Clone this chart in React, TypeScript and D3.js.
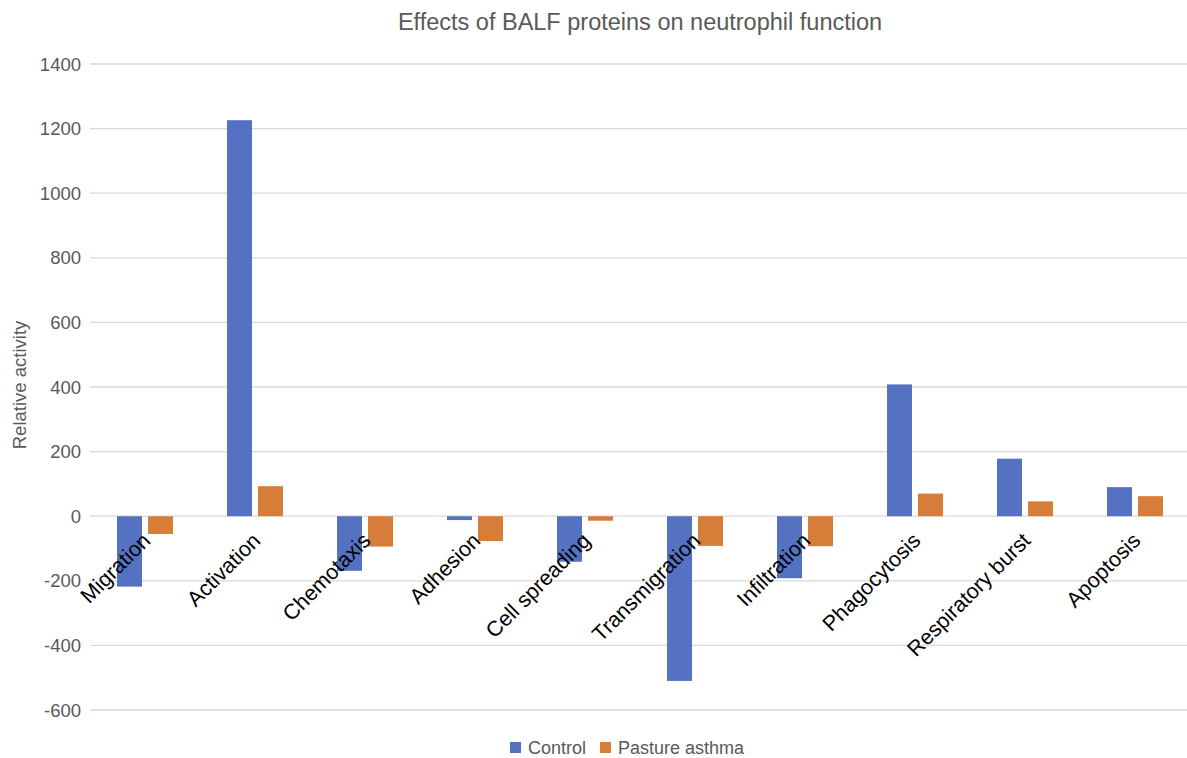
import React from 'react';
import * as d3 from 'd3';

const categories = [
  'Migration', 'Activation', 'Chemotaxis', 'Adhesion', 'Cell spreading',
  'Transmigration', 'Infiltration', 'Phagocytosis', 'Respiratory burst', 'Apoptosis',
];
const controlValues = [-218, 1226, -169, -12, -141, -510, -192, 408, 178, 90];
const pastureValues = [-55, 93, -94, -77, -14, -92, -93, 70, 46, 62];
const yTicks = [-600, -400, -200, 0, 200, 400, 600, 800, 1000, 1200, 1400];

const series = [
  { name: 'Control', values: controlValues, color: '#5572C2' },
  { name: 'Pasture asthma', values: pastureValues, color: '#D77D3A' },
];

const width = 1187;
const height = 758;
const margin = { top: 64, right: -3, bottom: 48, left: 90 };
const font = '"Liberation Sans", Arial, sans-serif';

const App: React.FC = () => {
  const x = d3.scaleBand<string>()
    .domain(categories)
    .range([margin.left, width - margin.right])
    .paddingInner(0)
    .paddingOuter(0);

  const y = d3.scaleLinear()
    .domain([-600, 1400])
    .range([height - margin.bottom, margin.top]);

  const barW = 25;
  const gap = 6;
  const offsets = [-(gap / 2 + barW), gap / 2];

  return (
    <svg width={width} height={height} style={{ position: 'absolute', left: 0, top: 0, background: '#fff' }}>
      <text x={640} y={30} textAnchor="middle" fontFamily={font} fontSize={23.5} fill="#595959">
        Effects of BALF proteins on neutrophil function
      </text>

      {yTicks.map(t => (
        <g key={t}>
          <line x1={margin.left} x2={width - margin.right} y1={y(t)} y2={y(t)} stroke="#d9d9d9" strokeWidth={1.3} />
          <text x={81} y={y(t) + 6.5} textAnchor="end" fontFamily={font} fontSize={18.5} fill="#595959">{t}</text>
        </g>
      ))}

      <text transform={`translate(26,${(y(-600) + y(1400)) / 2 - 2}) rotate(-90)`} textAnchor="middle"
        fontFamily={font} fontSize={18.5} fill="#595959">Relative activity</text>

      {series.map((s, si) => (
        <g key={s.name}>
          {s.values.map((v, i) => {
            const cx = (x(categories[i]) ?? 0) + x.bandwidth() / 2;
            return (
              <rect key={i} x={cx + offsets[si]} width={barW}
                y={Math.min(y(v), y(0))} height={Math.abs(y(v) - y(0))}
                fill={s.color} />
            );
          })}
        </g>
      ))}

      {categories.map(c => {
        const cx = (x(c) ?? 0) + x.bandwidth() / 2 - 4;
        const cy = y(0) + 15;
        return (
          <text key={c} transform={`translate(${cx},${cy}) rotate(-45)`} textAnchor="end"
            dominantBaseline="hanging" fontFamily={font} fontSize={21.5} fill="#000">{c}</text>
        );
      })}

      <g fontFamily={font} fontSize={18} fill="#595959">
        <rect x={510} y={742} width={11} height={11} fill={series[0].color} />
        <text x={528} y={754}>{series[0].name}</text>
        <rect x={600} y={742} width={11} height={11} fill={series[1].color} />
        <text x={618} y={754}>{series[1].name}</text>
      </g>
    </svg>
  );
};

export default App;
